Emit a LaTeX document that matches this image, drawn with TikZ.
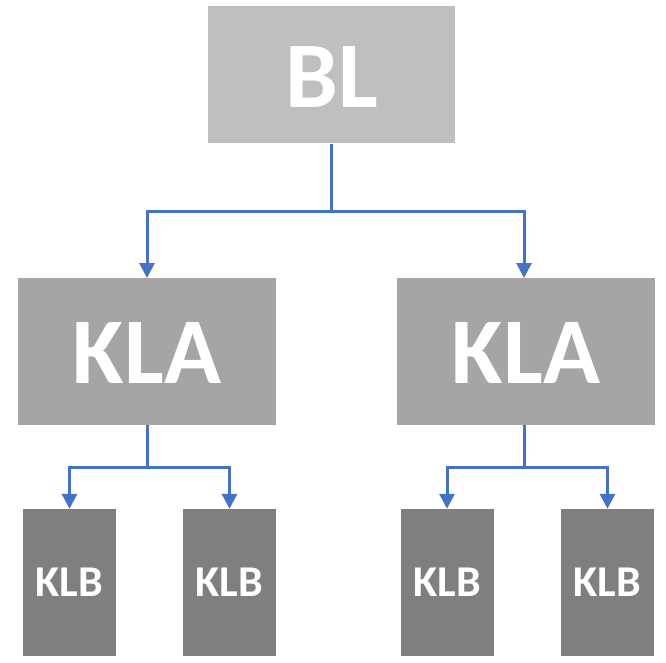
\documentclass[tikz,border=0pt]{standalone}
\usepackage{fontspec}
\setmainfont{Carlito}
\usetikzlibrary{arrows.meta}
\definecolor{blgray}{HTML}{BFBFBF}
\definecolor{klagray}{HTML}{A5A5A5}
\definecolor{klbgray}{HTML}{7F7F7F}
\definecolor{conblue}{HTML}{4472C4}
\begin{document}
\begin{tikzpicture}[x=1pt,y=-1pt,
  boxbase/.style={inner sep=0pt,text=white,text depth=0pt},
  blbox/.style={boxbase,fill=blgray,minimum width=247pt,minimum height=137pt,text height=66pt,font=\fontsize{94}{94}\selectfont\bfseries},
  klabox/.style={boxbase,fill=klagray,minimum width=258pt,minimum height=147pt,text height=63pt,font=\fontsize{94}{94}\selectfont\bfseries},
  klbbox/.style={boxbase,fill=klbgray,minimum width=93pt,minimum height=147pt,text height=28.3pt,font=\fontsize{44}{44}\selectfont\bfseries},
  conn/.style={draw=conblue,line width=3pt,-{Triangle[length=15pt,width=15pt]}}
]
\useasboundingbox (0,0) rectangle (666,663);
\node[blbox] (bl) at (331.5,75) {BL};
\node[klabox] (kla1) at (147,351.5) {KLA};
\node[klabox] (kla2) at (526,351.5) {KLA};
\node[klbbox] (klb1) at (69.5,582.5) {KLB};
\node[klbbox] (klb2) at (229.5,582.5) {KLB};
\node[klbbox] (klb3) at (447,582.5) {KLB};
\node[klbbox] (klb4) at (607.5,582.5) {KLB};
\coordinate (j0) at (331,211);
\coordinate (j1) at (147,467);
\coordinate (j2) at (524,467);
\draw[conn] (bl.south -| j0) |- (j0) -| (147,278);
\draw[conn] (j0) -| (524,278);
\draw[conn] (kla1.south) |- (j1) -| (klb1.north);
\draw[conn] (j1) -| (klb2.north);
\draw[conn] (kla2.south -| j2) |- (j2) -| (klb3.north);
\draw[conn] (j2) -| (klb4.north);
\end{tikzpicture}
\end{document}
